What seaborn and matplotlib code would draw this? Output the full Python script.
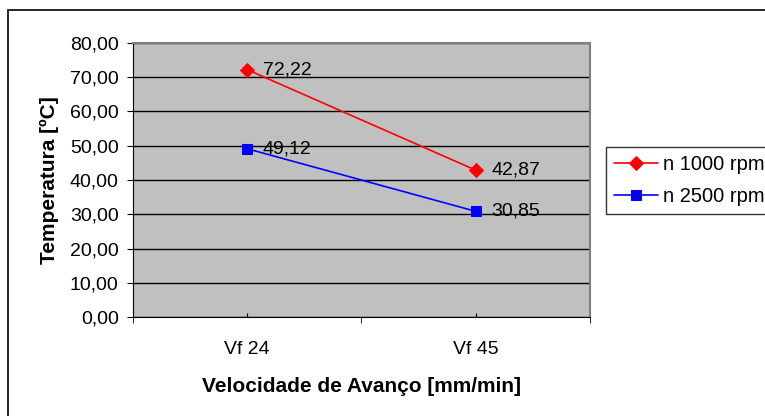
import pandas as pd
import matplotlib.pyplot as plt
import seaborn as sns
from matplotlib.patches import Rectangle
from matplotlib.ticker import FixedLocator

categories = ['Vf 24', 'Vf 45']
series_names = ['n 1000 rpm', 'n 2500 rpm']
temp_1000 = [72.22, 42.87]
temp_2500 = [49.12, 30.85]
y_ticks = [0, 10, 20, 30, 40, 50, 60, 70, 80]

df = pd.DataFrame({
    'vf': categories * 2,
    'temp': temp_1000 + temp_2500,
    'serie': [series_names[0]] * 2 + [series_names[1]] * 2,
})

sns.set_style('white')
plt.rcParams['font.family'] = ['Liberation Sans', 'DejaVu Sans']
plt.rcParams['text.color'] = 'black'
plt.rcParams['axes.labelcolor'] = 'black'
plt.rcParams['xtick.color'] = 'black'
plt.rcParams['ytick.color'] = 'black'

fig = plt.figure(figsize=(7.65, 4.16), dpi=100)
# moldura externa do gráfico (cortada à direita e embaixo)
fig.patches.append(Rectangle((8 / 765, -0.1), 1.2, 1 - 10 / 416 + 0.1,
                             transform=fig.transFigure, fill=False,
                             edgecolor='black', linewidth=1.2))
ax = fig.add_axes([133 / 765, 1 - 317 / 416, (590 - 133) / 765, (317 - 43) / 416])
ax.set_facecolor('#C0C0C0')

sns.lineplot(data=df, x='vf', y='temp', hue='serie', style='serie',
             palette={series_names[0]: '#FF0000', series_names[1]: '#0000FF'},
             markers={series_names[0]: 'D', series_names[1]: 's'},
             dashes=False, markersize=7, linewidth=1.2, ax=ax,
             markeredgecolor=None, zorder=3)

# rótulos de dados
for vals in (temp_1000, temp_2500):
    for i, v in enumerate(vals):
        ax.annotate(f'{v:.2f}'.replace('.', ','), (i, v), xytext=(11, 0),
                    textcoords='offset points', va='center', ha='left',
                    fontsize=14, color='black')

ax.set_xlim(-0.5, 1.5)
ax.set_ylim(0, 80)
ax.set_yticks(y_ticks)
ax.set_yticklabels([f'{t:.2f}'.replace('.', ',') for t in y_ticks], fontsize=14)
ax.yaxis.grid(True, color='black', linewidth=1)
ax.set_axisbelow(True)

ax.set_xticks([0, 1])
ax.set_xticklabels(categories, fontsize=14)
ax.tick_params(axis='x', which='major', direction='in', length=3, pad=17,
               color='black', bottom=True)
ax.xaxis.set_minor_locator(FixedLocator([-0.5, 0.5, 1.5]))
ax.tick_params(axis='x', which='minor', direction='out', length=4.3,
               color='black', bottom=True)
ax.tick_params(axis='y', direction='out', length=4.3, pad=6, color='black', left=True)

for side in ['top', 'right']:
    ax.spines[side].set_color('#808080')
    ax.spines[side].set_linewidth(1.5)
ax.spines['left'].set_color('black')
ax.spines['bottom'].set_color('black')

ax.set_xlabel('Velocidade de Avanço [mm/min]', fontsize=15, fontweight='bold', labelpad=14)
ax.set_ylabel('Temperatura [ºC]', fontsize=15, fontweight='bold', labelpad=8)

handles, labels = ax.get_legend_handles_labels()
ax.legend_.remove()
leg = fig.legend(handles, labels, loc='upper left',
                 bbox_to_anchor=(606 / 765, 1 - 147 / 416), fontsize=14.5,
                 frameon=True, fancybox=False, edgecolor='black',
                 borderpad=0.4, labelspacing=0.65, handlelength=2.2,
                 handletextpad=0.25, borderaxespad=0)
leg.get_frame().set_linewidth(1)

fig.savefig('out.png', dpi=100)
